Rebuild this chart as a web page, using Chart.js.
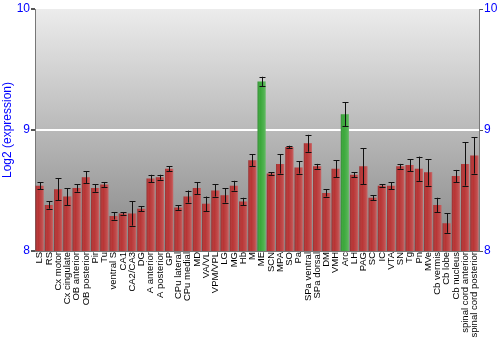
<!DOCTYPE html>
<html>
<head>
<meta charset="utf-8">
<script src="https://cdn.jsdelivr.net/npm/chart.js@4/dist/chart.umd.min.js"></script>
<style>
  html, body { margin: 0; padding: 0; background: #fff; }
  #box { width: 500px; height: 350px; }
</style>
</head>
<body>
<div id="box"><canvas id="grafico" width="500" height="350"></canvas></div>
<script>
// dados do gráfico
const categorias = ['LS', 'RS', 'Cx motor', 'Cx cingulate', 'OB anterior', 'OB posterior', 'Pir', 'Tu',
    'ventral S', 'CA1', 'CA2/CA3', 'DG', 'A anterior', 'A posterior', 'GP', 'CPu lateral', 'CPu medial',
    'MD', 'VA/VL', 'VPM/VPL', 'LG', 'MG', 'Hb', 'M', 'ME', 'SCN', 'MPA', 'SO', 'Pa', 'SPa ventral',
    'SPa dorsal', 'DM', 'VMH', 'Arc', 'LH', 'PAG', 'SC', 'IC', 'VTA', 'SN', 'Tg', 'Pn', 'MVe',
    'Cb vermis', 'Cb lobe', 'Cb nucleus', 'spinal cord anterior', 'spinal cord posterior'];
const valores = [8.54, 8.38, 8.51, 8.45, 8.52, 8.61, 8.52, 8.55,
    8.29, 8.31, 8.31, 8.35, 8.60, 8.61, 8.68, 8.36, 8.45,
    8.52, 8.39, 8.50, 8.46, 8.54, 8.41, 8.75, 9.40, 8.64, 8.72, 8.86, 8.69, 8.89,
    8.70, 8.48, 8.68, 9.13, 8.63, 8.70, 8.44, 8.54, 8.54, 8.70, 8.71, 8.68, 8.65,
    8.38, 8.23, 8.62, 8.72, 8.79];
const erros = [0.03, 0.03, 0.09, 0.07, 0.03, 0.05, 0.03, 0.02,
    0.03, 0.01, 0.10, 0.02, 0.03, 0.02, 0.02, 0.02, 0.05,
    0.05, 0.06, 0.05, 0.06, 0.04, 0.03, 0.05, 0.04, 0.01, 0.08, 0.01, 0.05, 0.07,
    0.02, 0.03, 0.07, 0.10, 0.02, 0.15, 0.02, 0.01, 0.03, 0.02, 0.05, 0.10, 0.11,
    0.06, 0.08, 0.05, 0.18, 0.15];
const destaques = ['ME', 'Arc'];
const ticksY = [8, 9, 10];

const fonte = "'Liberation Sans', Arial, sans-serif";

// fundo cinza em degradê na área do gráfico
const fundoPlugin = {
    id: 'fundo',
    beforeDraw(chart) {
        const { ctx, chartArea: a } = chart;
        ctx.save();
        ctx.fillStyle = '#fff';
        ctx.fillRect(0, 0, chart.width, chart.height);
        const g = ctx.createLinearGradient(0, a.top, 0, a.bottom);
        g.addColorStop(0, '#ececec');
        g.addColorStop(1, '#868686');
        ctx.fillStyle = g;
        ctx.fillRect(a.left, a.top, a.right - a.left, a.bottom - a.top);
        ctx.restore();
    }
};

// brilho nas barras + barras de erro
const errosPlugin = {
    id: 'barrasErro',
    afterDatasetsDraw(chart) {
        const { ctx, chartArea: a } = chart;
        const y = chart.scales.y;
        const meta = chart.getDatasetMeta(0);
        ctx.save();
        ctx.beginPath();
        ctx.rect(a.left, a.top, a.right - a.left, a.bottom - a.top);
        ctx.clip();
        // leve degradê horizontal em cada barra
        meta.data.forEach(function (bar) {
            const l = bar.x - bar.width / 2, r = bar.x + bar.width / 2;
            const g = ctx.createLinearGradient(l, 0, r, 0);
            g.addColorStop(0, 'rgba(0,0,0,0.18)');
            g.addColorStop(0.35, 'rgba(255,255,255,0)');
            g.addColorStop(0.8, 'rgba(255,255,255,0.12)');
            g.addColorStop(1, 'rgba(255,255,255,0.25)');
            ctx.fillStyle = g;
            ctx.fillRect(l, bar.y, r - l, a.bottom - bar.y);
        });
        ctx.restore();
        ctx.save();
        ctx.strokeStyle = '#111';
        ctx.lineWidth = 1;
        meta.data.forEach(function (bar, i) {
            const x = Math.round(bar.x) + 0.5;
            const top = y.getPixelForValue(valores[i] + erros[i]);
            const bot = y.getPixelForValue(valores[i] - erros[i]);
            ctx.beginPath();
            ctx.moveTo(x, top);
            ctx.lineTo(x, bot);
            ctx.moveTo(x - 3, Math.round(top) + 0.5);
            ctx.lineTo(x + 3, Math.round(top) + 0.5);
            ctx.moveTo(x - 3, Math.round(bot) + 0.5);
            ctx.lineTo(x + 3, Math.round(bot) + 0.5);
            ctx.stroke();
        });
        ctx.restore();
    }
};

function corBarra(ctx) {
    const nome = categorias[ctx.dataIndex];
    return destaques.includes(nome) ? '#3aa83a' : '#b83434';
}

new Chart(document.getElementById('grafico'), {
    type: 'bar',
    data: {
        labels: categorias,
        datasets: [{
            data: valores,
            backgroundColor: corBarra,
            borderWidth: 0,
            barPercentage: 0.88,
            categoryPercentage: 1
        }]
    },
    options: {
        responsive: false,
        animation: false,
        layout: { padding: { top: 9, right: 0, left: 0, bottom: 0 } },
        plugins: { legend: { display: false }, tooltip: { enabled: false } },
        scales: {
            x: {
                grid: { display: false, drawTicks: false },
                border: { color: '#777' },
                ticks: {
                    color: '#000',
                    autoSkip: false,
                    minRotation: 90,
                    maxRotation: 90,
                    padding: 1,
                    font: { family: fonte, size: 9.5 }
                },
                afterFit(scale) { scale.height = 99; }
            },
            y: {
                min: 8,
                max: 10,
                afterBuildTicks(scale) { scale.ticks = ticksY.map(v => ({ value: v })); },
                grid: {
                    color: ctx => ctx.tick && ctx.tick.value === 9 ? '#fff' : 'rgba(0,0,0,0)',
                    lineWidth: 2,
                    tickLength: 4,
                    tickColor: '#555'
                },
                border: { color: '#777' },
                ticks: { color: '#0000ff', padding: 1, font: { family: fonte, size: 12 } },
                title: {
                    display: true,
                    text: 'Log2 (expression)',
                    color: '#0000ff',
                    padding: 0,
                    font: { family: fonte, size: 12 }
                },
                afterFit(scale) { scale.width = 35; }
            },
            y2: {
                position: 'right',
                min: 8,
                max: 10,
                afterBuildTicks(scale) { scale.ticks = ticksY.map(v => ({ value: v })); },
                grid: { drawOnChartArea: false, tickLength: 4, tickColor: '#555' },
                border: { color: '#777' },
                ticks: { color: '#0000ff', padding: 1, font: { family: fonte, size: 12 } },
                afterFit(scale) { scale.width = 21; }
            }
        }
    },
    plugins: [fundoPlugin, errosPlugin]
});
</script>
</body>
</html>
